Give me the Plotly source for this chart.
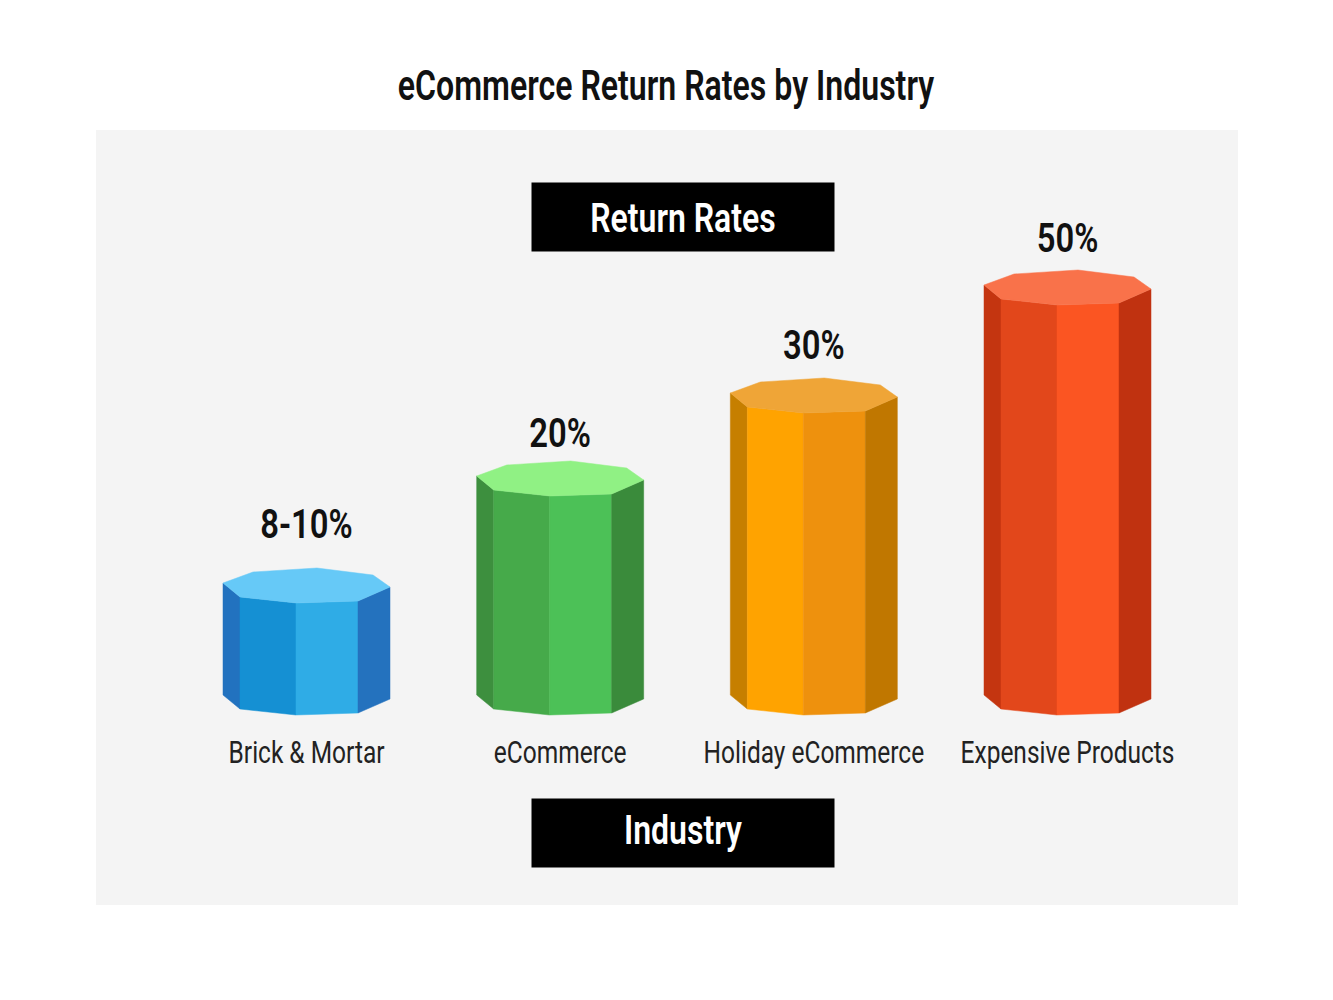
import plotly.graph_objects as go

# --- data ---
categories = ["Brick & Mortar", "eCommerce", "Holiday eCommerce", "Expensive Products"]
value_labels = ["8-10%", "20%", "30%", "50%"]
# drawn column heights and label heights, in axis units (the artwork is not to scale)
column_heights = [112, 219, 302, 410]
label_heights = [171, 262, 350, 457]

left_strip = ["#2272BF", "#3D8F3E", "#C67F00", "#C43510"]
front_left = ["#1590D3", "#46AA4A", "#FFA300", "#E2471B"]
front_right = ["#2FACE6", "#4CC157", "#EE910D", "#FB5522"]
right_strip = ["#2472BE", "#3A8B3B", "#C07700", "#C03210"]
top_face = ["#66C9F7", "#90F184", "#EFA537", "#F9724A"]

FONT = "Roboto"

# --- octagonal prism cross-section, in axis units relative to the column centre ---
CAT = 253.67  # y units per category step
edge_dx = [(-83.5 + d) / CAT for d in [0, 17, 73, 135, 167]]
edge_dy = [0, -14, -20, -18, -4]
back_dx = [(-83.5 + d) / CAT for d in [150, 94, 30]]
back_dy = [8, 15, 11]

fig = go.Figure()


def poly(xs, ys, color):
    fig.add_trace(go.Scatter(x=xs + xs[:1], y=ys + ys[:1], mode="lines", fill="toself",
                             fillcolor=color, line=dict(color=color, width=0.5),
                             hoverinfo="skip", showlegend=False))


for i, h in enumerate(column_heights):
    faces = [left_strip[i], front_left[i], front_right[i], right_strip[i]]
    for k, color in enumerate(faces):
        xs = [i + edge_dx[k], i + edge_dx[k + 1], i + edge_dx[k + 1], i + edge_dx[k]]
        ys = [edge_dy[k], edge_dy[k + 1], h + edge_dy[k + 1], h + edge_dy[k]]
        poly(xs, ys, color)
    tx = [i + d for d in edge_dx] + [i + d for d in back_dx]
    ty = [h + d for d in edge_dy] + [h + d for d in back_dy]
    poly(tx, ty, top_face[i])

fig.add_trace(go.Scatter(x=list(range(len(categories))), y=label_heights, mode="text",
                         text=value_labels, textposition="middle center",
                         textfont=dict(family=FONT, size=41, color="#111111", weight=600),
                         hoverinfo="skip", showlegend=False))

W, H = 1333, 1000
L, R, T, B = 96, 1238, 130, 905


def px_x(p):
    return (p - L) / (R - L)


def px_y(p):
    return (B - p) / (B - T)


fig.update_layout(
    width=W, height=H,
    margin=dict(l=L, r=W - R, t=T, b=H - B, pad=0),
    paper_bgcolor="#ffffff", plot_bgcolor="#f4f4f4",
    showlegend=False,
    title=dict(text="eCommerce Return Rates by Industry", x=666 / W, xanchor="center",
               y=1 - 85 / H, yanchor="middle",
               font=dict(family=FONT, size=42, color="#111111", weight=600)),
    xaxis=dict(range=[(L - 306.5) / CAT, (R - 306.5) / CAT], tickvals=list(range(4)),
               ticktext=categories, anchor="free", position=px_y(731), showline=False,
               showgrid=False, zeroline=False, ticks="", tickangle=0,
               tickfont=dict(family=FONT, size=31, color="#222222")),
    yaxis=dict(range=[695 - B, 695 - T], visible=False, showgrid=False, zeroline=False),
    annotations=[
        dict(text="Return Rates", xref="paper", yref="paper", x=px_x(682.5), y=px_y(217),
             xanchor="center", yanchor="middle", width=300, height=66, bgcolor="#000000",
             showarrow=False, font=dict(family=FONT, size=40, color="#ffffff", weight=600)),
        dict(text="Industry", xref="paper", yref="paper", x=px_x(682.5), y=px_y(832.5),
             xanchor="center", yanchor="middle", width=300, height=66, bgcolor="#000000",
             showarrow=False, font=dict(family=FONT, size=40, color="#ffffff", weight=600)),
    ],
)

# The reference lettering is a condensed face; narrow the installed one about each text's centre.
condense = """
document.body.style.margin = '0';
[['.gtitle', 0.764, [0]], ['.annotation-text', 0.80, [2, -2]], ['.xtick text', 0.79, [0, 0, 0, 0]], ['.textpoint text', 0.80, [4, 4, 4, 4]]]
  .forEach(function (p) {
    document.querySelectorAll(p[0]).forEach(function (t, i) {
      var b = t.getBBox(), cx = b.x + b.width / 2, old = t.getAttribute('transform') || '';
      t.setAttribute('transform', old + ' translate(' + cx + ' ' + p[2][i] + ') scale(' + p[1] + ' 1) translate(' + (-cx) + ' 0)');
    });
  });
"""
fig.write_html("out.html", post_script=condense, config={"displayModeBar": False})
